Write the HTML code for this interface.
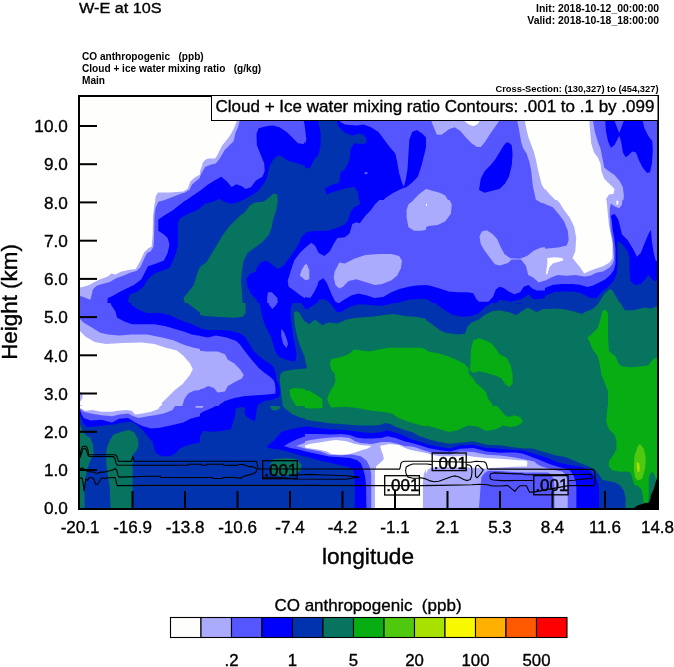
<!DOCTYPE html>
<html><head><meta charset="utf-8"><style>
html,body{margin:0;padding:0;background:#fff;}
svg{display:block;}
text{font-family:"Liberation Sans",sans-serif;}
.t{will-change:transform;}
</style></head><body>
<svg width="674" height="667" viewBox="0 0 674 667" style="will-change:transform">
<rect x="0" y="0" width="674" height="667" fill="#fff"/>
<g font-size="15" stroke="#000" stroke-width="0.35"><text x="79" y="12.9" textLength="82.6" lengthAdjust="spacingAndGlyphs">W-E at 10S</text></g>
<g font-size="10.1" font-weight="bold">
<text x="82" y="59.5">CO anthropogenic&#160;&#160; (ppb)</text>
<text x="82" y="71.5">Cloud + ice water mixing ratio&#160;&#160; (g/kg)</text>
<text x="82" y="83.5">Main</text>
</g>
<g font-weight="bold" text-anchor="end">
<text x="659" y="11.5" font-size="10.45">Init: 2018-10-12_00:00:00</text>
<text x="659" y="23.5" font-size="10.45">Valid: 2018-10-18_18:00:00</text>
<text x="658.5" y="91.6" font-size="9.35">Cross-Section: (130,327) to (454,327)</text>
</g>
<svg x="80" y="97" width="577" height="411" viewBox="80 97 577 411" overflow="hidden">
<rect x="80" y="97" width="577" height="411" fill="#FEFEFC"/>
<defs><clipPath id="c00"><rect x="80" y="97" width="120" height="103"/></clipPath><clipPath id="c01"><rect x="200" y="97" width="105" height="103"/></clipPath><clipPath id="c02"><rect x="305" y="97" width="121" height="103"/></clipPath><clipPath id="c03"><rect x="426" y="97" width="119" height="103"/></clipPath><clipPath id="c04"><rect x="545" y="97" width="112" height="103"/></clipPath><clipPath id="c10"><rect x="80" y="200" width="120" height="103"/></clipPath><clipPath id="c11"><rect x="200" y="200" width="105" height="103"/></clipPath><clipPath id="c12"><rect x="305" y="200" width="121" height="103"/></clipPath><clipPath id="c13"><rect x="426" y="200" width="119" height="103"/></clipPath><clipPath id="c14"><rect x="545" y="200" width="112" height="103"/></clipPath><clipPath id="c20"><rect x="80" y="303" width="120" height="103"/></clipPath><clipPath id="c21"><rect x="200" y="303" width="105" height="103"/></clipPath><clipPath id="c22"><rect x="305" y="303" width="121" height="103"/></clipPath><clipPath id="c23"><rect x="426" y="303" width="119" height="103"/></clipPath><clipPath id="c24"><rect x="545" y="303" width="112" height="103"/></clipPath><clipPath id="c30"><rect x="80" y="406" width="120" height="102"/></clipPath><clipPath id="c31"><rect x="200" y="406" width="105" height="102"/></clipPath><clipPath id="c32"><rect x="305" y="406" width="121" height="102"/></clipPath><clipPath id="c33"><rect x="426" y="406" width="119" height="102"/></clipPath><clipPath id="c34"><rect x="545" y="406" width="112" height="102"/></clipPath></defs>
<g clip-path="url(#c00)">
<polygon fill="#ABABFD" points="200.3,174.4 194,178 190.4,181.6 187.7,188.8 183.2,191.5 169.7,192.4 158,192.4 155.8,196 154.4,205 205,205 205,170"/>
<polygon fill="#5656FE" points="203.9,174.4 197.6,179.8 192.2,184.3 189.5,189.7 185,192.4 179.6,194.2 172.4,196.9 163.4,200.5 160,205 205,205 205,172"/>
<polygon fill="#0000FD" points="215,180.2 207.3,184.9 201.1,190.1 194.8,194.3 188.6,198.4 182.4,203.6 176.2,208.8 205,208.8"/>
</g>
<g clip-path="url(#c01)">
<polygon fill="#ABABFD" points="237.2,120 234.5,126.9 231.9,132.2 229.2,136.7 225.6,141.2 222.1,145.6 219.4,151 216.7,156.3 214.9,158.5 207.8,158.5 205.1,159.9 202.9,162.5 201.6,167 198.5,175 197,178.7 197,205 310,205 310,120"/>
<polygon fill="#5656FE" points="239.9,120 238.1,126.9 235.4,133.1 233.6,141.2 229.2,145.6 224.7,150.1 222.1,154.5 219.4,159 215.8,163.4 210.5,164.7 205.1,167 201.7,173.1 198.9,178.7 197,181.5 197,205 310,205 310,120"/>
<polygon fill="#0000FD" points="194.8,194.3 201.1,190.1 207.3,184.9 215,180.2 221.3,176.8 226.9,181.5 231.6,187.1 236.3,184.3 241.9,186.2 245.6,189 251.2,187.1 255.9,180.6 262.4,176.8 264.7,171.2 264.3,163.7 260.6,154.4 256.8,145 256.5,133.8 258.7,128.2 266.2,126.3 272.7,125.4 279.3,127.3 286.7,132 292.3,137.6 298,143.2 303.6,144.1 306.4,139.4 305.4,132 304.5,124.5 303.6,120 310,120 310,205 194.8,205"/>
<polygon fill="#0233AE" points="197,209 200,207.9 204.7,203.7 211.9,202 219,199 223.7,201.4 230.9,203.7 235.6,203.1 241.5,200.8 247.5,197.8 253.4,194.2 258.2,190.7 262.9,184.7 265.9,180 267.1,176.8 269.9,165.6 273.7,159.1 278.3,155.3 283,157.2 288.6,160.9 296.1,162.8 303.6,165.6 309.2,167.5 313.8,161.9 316.7,154.4 319.5,145 320.4,135.7 318.5,126.3 317.6,120 330,120 330,215 197,215"/>
<polygon fill="#06745E" points="249.9,205.5 254.6,202.6 264.1,201.4 268.8,197.8 273.6,193.6 277.2,194.2 277.7,201.4 277,205 249,205"/>
</g>
<g clip-path="url(#c02)">
<polygon fill="#ABABFD" points="300,97 430,97 430,205 300,205"/>
<polygon fill="#5656FE" points="300,97 430,97 430,189 426,189 419.6,193.7 414,199.3 412.2,205 300,205"/>
<polygon fill="#0000FD" points="304.5,120 337.4,120 344.9,124.5 356.1,125.4 363.6,124.5 371,127.3 378.5,132 384.1,139.4 389.7,146.9 395.3,153.5 397.2,161.9 399.1,173.1 401.9,182.4 403.8,187.1 405.6,180.6 407.5,169.3 408.4,154.4 409.4,139.4 412.2,132 416.8,130.1 422.5,133.8 426,137.6 426.5,145 424.3,154.4 421.5,165.6 417.8,176.8 412.2,182.4 406.6,187.1 401,189 393.5,192.7 386,197.4 380.4,203 380,205 300,205 300,144 305,144 306.4,139.4 305.4,132"/>
<polygon fill="#5656FE" points="364.5,172 367.5,172 367.5,174.2 364.5,174.2"/>
<polygon fill="#0233AE" points="317.8,120 336.5,120 338.3,126.3 343.9,132 352.3,135.7 358,133.8 363.6,134.8 366.4,138.5 366.4,143.2 361.7,144.1 354.2,143.2 350.5,148.8 349.5,160 344.9,169.3 340.2,173.1 339.3,182.4 333.7,184.3 325.2,188 326.2,194.6 333.7,191.8 346.7,188 354.2,187.1 358,191.8 359.4,205 300,205 300,166.5 305.6,168.4 310.3,167.5 314,160 318.7,154.4 320.6,145 320.6,132"/>
</g>
<g clip-path="url(#c03)">
<polygon fill="#ABABFD" points="420,97 464,97 464,120.7 468.7,124.5 473.3,126.3 477.1,124.5 479.9,120.7 479.9,97 524.8,97 524.8,120.7 526.6,130.1 528.5,137.6 531.3,145 534.1,152.5 536,160 537.8,169.3 539.7,176.8 541.6,184.3 544.4,189 547,191.8 550,193 550,205 420,205"/>
<polygon fill="#5656FE" points="420,97 431.3,97 431.3,120.7 434.1,128.2 436.9,134.8 441.6,134.8 449,129.2 454.7,127.3 460.3,131 465.9,137.6 471.5,143.2 477.1,146.9 480.8,146.9 485.5,141.3 490.2,133.8 494.8,127.3 498.6,121.7 499.5,120.7 517.3,120.7 519.1,130.1 521,141.3 522.9,147.8 526.6,153.5 529.4,161.9 531.3,171.2 532.2,180.6 533.2,188 535,195.5 536.9,205 450.9,205 445.3,195.5 439.7,192.7 432.2,190.8 426.6,189 421,193.7 420,194"/>
<polygon fill="#0000FD" points="418,131 422.5,133.8 425.5,137.6 426,145 425,154.4 422.5,162 421,166 418,168"/>
<polygon fill="#0000FD" points="507.9,142.2 511.7,145 512.6,154.4 511.7,165.6 508.9,176.8 505.1,183.4 499.5,189 492,190.8 484.6,192.7 479,189.9 480.8,178.7 484.6,171.2 490.2,165.6 494.8,160 499.5,152.5 503.3,146 506.1,142.8"/>
</g>
<g clip-path="url(#c04)">
<polygon fill="#ABABFD" points="530,97 536,97 536,156.3 537.9,163.7 540.7,176.8 543.5,187.1 549.1,193.7 554.7,199.3 557.5,205 530,205"/>
<polygon fill="#ABABFD" points="589.3,97 589.3,120.7 590.2,132 591.2,143.2 594,152.5 597.7,157.2 600.5,163.7 601.4,171.2 604.2,178.7 610.8,185.2 614.5,189 613.6,193.7 608.9,194.6 606.1,199.3 605.2,205 660,205 660,97"/>
<polygon fill="#5656FE" points="593,97 593,120.7 594.9,132 597.7,141.3 600.5,148.8 602.4,158.1 604.2,167.5 608.9,171.2 614.5,175 619.2,180.6 622.9,187.1 623.9,195.5 622.9,205 660,205 660,97"/>
<polygon fill="#0000FD" points="605.2,120.7 606.1,132 608,141.3 610.8,147.8 614.5,145 617.3,139.4 619.2,135.7 621.1,141.3 622.9,152.5 625.7,157.2 628.5,155.3 632.3,151.6 636,152.5 638.8,160 642.6,167.5 647.2,173.1 650,172.2 651.9,163.7 652.8,150.7 652.3,141.3 648.2,135.7 644.4,128.2 642.6,120.7 623.9,120.7 621.1,128.2 619.2,132.9 617.3,128.2 614.5,120.7"/>
</g>
<g clip-path="url(#c10)">
<polygon fill="#ABABFD" points="156.4,195 154.5,204.5 153,215.7 152.7,234.4 151.7,246.5 148,248.4 144.2,252.2 140.5,260.6 135.8,269 128.3,269.9 120.9,271.8 115.3,274.6 111.5,273.6 107.8,276.5 100.3,279.3 94.7,282.1 89.1,284.9 83.5,286.7 79.7,287.7 75,288 75,310 205,310 205,195"/>
<polygon fill="#5656FE" points="177,195 177,197 165.7,199.8 158.3,201.7 155.5,208.2 154.5,215.7 154.1,234.4 153.6,246.5 150.8,251.2 147,253.1 144.2,258.7 140.5,267.1 136.8,270.8 130.2,272.7 123.7,275.5 116.2,278.3 109.7,282.1 102.2,283.9 96.6,285.8 92.8,289.5 91,298 90,299.8 83.5,297 79.7,296 75,296 75,310 205,310 205,195"/>
<polygon fill="#0000FD" points="190,195 190,197 182.6,202.6 173.2,210.1 163.9,215.7 158.3,219.4 158.3,230.7 163.9,234.4 167.6,238.1 169.5,244.7 167.6,253.1 163.9,260.6 156.4,263.4 148,266.2 145.2,271.8 141.4,279.3 134,284.9 126.5,288.6 119,292.3 112.5,296.1 107.8,298 106.8,310 205,310 205,195"/>
<polygon fill="#0233AE" points="205,205 202,207.3 195.6,211 188.2,213.8 179.8,218.5 177.9,223.2 177.9,234.4 177.9,245.6 176,253.1 173.2,260.6 169.5,268 162,270.8 154.5,273.6 148,279.3 143.3,286.7 137.7,291.4 130.2,294.2 128.3,298.9 129.3,310 205,310"/>
<polygon fill="#06745E" points="205,262 202,264.3 199.4,268 196.6,275.5 193.8,284.9 188.2,292.3 183.5,298 184.4,301.7 186.3,310 205,310"/>
</g>
<g clip-path="url(#c11)">
<polygon fill="#0000FD" points="195,195 310,195 310,310 195,310"/>
<polygon fill="#5656FE" points="311,242.8 314.8,245.6 316.6,255 321.3,258.7 325,261 325,283 318.5,284.9 314.8,290.5 311,298 305.4,298.9 298.9,294.2 294.2,290.5 288.6,286.7 287.7,281.1 290.5,271.8 294.2,260.6 299.8,253.1 305.4,247.5 309.2,243.7"/>
<polygon fill="#ABABFD" points="306.4,263.4 309.2,268 310.1,271.8 309.2,280.2 305.4,280.2 299.8,275.5 301.7,269.9 304.5,265.2"/>
<polygon fill="#5656FE" points="268,292.3 271.8,292.3 277.4,298 278.3,310 267.1,310 267.1,298"/>
<polygon fill="#0233AE" points="195,209 200,207.9 204.7,203.7 211.9,202 219,199 223.7,201.4 230.9,203.7 235.6,203.1 241.5,200.8 247.5,197.8 253.4,194.2 258.2,190.7 262.9,184.7 265.9,180 325,180 325,231 316.6,229.7 309.2,231.6 301.7,236.3 298.9,243.7 294.2,251.2 288.6,258.7 283,266.2 277.4,269 271.8,264.3 266.2,260.6 260.6,262.4 256.8,268 255.9,271.8 250.3,273.6 246.5,279.3 247.5,286.7 251.2,294.2 256.8,299.8 258.7,310 195,310"/>
<polygon fill="#06745E" points="195,278 197,275.5 200.7,266.2 206.3,262.4 212,253.1 217.6,243.7 223.2,234.4 228.8,226.9 235.6,220 240.4,215.6 245.1,212 249.9,205.5 254.6,202.6 264.1,201.4 268.8,197.8 273.6,193.6 277.2,194.2 277.7,201.4 276,210.9 273,220 271.8,226.9 269,234.4 262.4,241.9 255,247.5 247.5,253.1 243.7,260.6 241.9,271.8 240.9,281.1 241.9,290.5 242.8,310 195,310"/>
</g>
<g clip-path="url(#c12)">
<polygon fill="#5656FE" points="300,195 430,195 430,310 300,310"/>
<polygon fill="#ABABFD" points="408.4,204.5 414,199.8 419.6,197 430,195 430,228.8 421.5,230.7 414,230.7 408.4,226.9 406.6,217.6 406.6,210.1"/>
<polygon fill="#ABABFD" points="339.3,262.4 344.9,263.4 354.2,258.7 365.4,255 378.5,254 391.6,254 399.1,255.9 401.9,260.6 401,268 397.2,275.5 391.6,280.2 382.3,283.9 374.8,284.9 365.4,282.1 356.1,279.3 348.6,281.1 343,286.7 339.3,288.6 335.5,284.9 333.7,277.4 334.6,271.8 337.4,266.2"/>
<polygon fill="#ABABFD" points="306.5,263.4 309.3,269.9 309.3,279.3 304.7,280.2 300,275.5 301.9,271.8 303.7,266.2"/>
<polygon fill="#0000FD" points="383.2,195 383.2,197 378.5,200.7 374.8,204.5 371,210.1 365.4,215.7 359.8,223.2 356.1,222.2 352.3,224.1 349.5,233.5 344.9,237.2 337.4,238.1 333.7,243.7 329.9,251.2 324.3,255.9 318.7,253.1 315,245.6 311.2,242.8 305.6,247.5 300,253.1 295,253 295,195"/>
<polygon fill="#0000FD" points="295,290 296,290 304.9,297.1 310.2,298 313.8,292.7 317.4,285.6 318.7,281.1 323.4,278.3 326.2,282.1 327.2,283.8 331.6,294.5 335.2,301.6 338.7,303.4 344.1,299.8 351.2,295.4 358.3,293.6 367.2,295.4 374.3,298 383.2,297.1 390.4,292.7 399.3,289.1 409.9,286.5 416,285.6 430,284.9 430,310 295,310"/>
<polygon fill="#0233AE" points="359.8,195 359.8,204.5 354.2,207.3 350.5,212 347.7,221.3 343.9,225 337.4,227.8 328,230.7 318.7,230.7 309.3,231.6 303.7,233.5 300,236.3 295,237 295,195"/>
<polygon fill="#0233AE" points="318.7,299.8 324.3,298.9 329.9,302.6 331.8,310 316,310"/>
<polygon fill="#0233AE" points="389.7,310 399.1,302.6 408.4,299.8 419.6,298.9 430,298.9 430,310"/>
</g>
<g clip-path="url(#c13)">
<polygon fill="#5656FE" points="420,195 550,195 550,310 420,310"/>
<polygon fill="#ABABFD" points="420,195 448.1,195 448.1,197 451.8,204.5 450.9,213.8 445.3,221.3 437.8,225 428.5,226 421,229.7 420,230"/>
<polygon fill="#FEFEFC" points="425,204 427,204 427,206 425,206"/>
<polygon fill="#ABABFD" points="479.5,236.3 481.9,231.5 486.6,230.3 492.6,233.9 497.3,239.2 500.9,247.6 504.4,254.1 510.4,258.2 519.9,258.8 527,255.9 534.1,250.5 541.2,247.6 550,247 550,279 538.8,282.6 532.9,277.2 528.2,274.9 525.8,265.4 521,259.6 511.5,259.6 508,263 499.7,265.4 494.9,264.2 490.2,258.2 484.2,249.9 480.7,244"/>
<polygon fill="#ABABFD" points="533.2,195 550,195 550,205 540.6,202.6 536,199.8"/>
<polygon fill="#0000FD" points="415,283.5 421,283.9 430.3,285.8 439.7,288.6 449,291.4 458.4,292.3 467.7,292.3 473.3,293.3 476.2,298.9 479,301.7 488.3,301.7 493,297 495.8,289.5 499.5,286.7 503.3,287.7 508.9,291.4 514.5,294.2 520.1,292.3 523.8,286.7 528.5,284.9 532.2,288.6 536.9,290.5 544.4,290.5 550,289 550,310 415,310"/>
<polygon fill="#0233AE" points="415,298 421,298 428.5,299.8 436,306 436,310 415,310"/>
<polygon fill="#0233AE" points="493.9,310 493.9,306 499.5,299.8 510.7,301.7 522,298.9 528.5,294.2 533.2,298.9 540.6,298.9 550,297 550,310"/>
</g>
<g clip-path="url(#c14)">
<polygon fill="#5656FE" points="530,195 662,195 662,310 530,310"/>
<polygon fill="#ABABFD" points="530,195 622.9,195 622,204.5 619.2,208.2 614.5,206.3 610.8,203.5 609.8,208.2 609.8,215.7 610.8,230.7 612.6,240 613.6,251.2 614,259.5 612.5,263.9 609.6,267.6 603.6,271.3 596.2,272.8 590.3,275.8 584.3,276.5 575.4,275 566.5,275.8 557.6,275 551.7,277.3 544.3,281 536.9,281.7 530.9,277.3 528,275 528,250.3 536,250.3 547.2,248.4 558.4,247.5 566.8,245.6 568.7,240 567.8,230.7 564,221.3 558.4,213.8 552.8,207.3 543.5,203.5 536,200.7 530,200"/>
<polygon fill="#FEFEFC" points="553.8,195 553.8,197 559.4,202.6 564,210.1 569.7,217.6 574.3,226.9 576.2,238.1 575.3,251.2 572.5,258 579.9,266.9 584.3,273.5 588.8,271.3 596.2,268.4 603.6,266.1 609.6,262.4 612.5,258 612.6,243.7 610.8,234.4 608.9,225 608,215.7 607,204.5 606.1,197 606.1,195"/>
<polygon fill="#FEFEFC" points="616.4,200.7 618.3,200.7 618.3,204.5 616.4,204.5"/>
<polygon fill="#FEFEFC" points="547.3,258 554.7,257.2 562.1,258 563.6,260.2 559.1,261.7 553.2,263.2 549.5,266.9 547.3,274.3 545.8,274.3 547.3,263.9"/>
<polygon fill="#0000FD" points="530,288 535.4,291.4 541.3,289.9 547.3,286.9 553.2,284.7 562.1,283.9 572.5,283.9 579.9,284.7 587.3,286.9 593.2,285.4 599.2,282.4 605.1,279.5 610.3,275 614,269.8 615.5,263.9 615.5,249.3 614.5,240 612.6,228.8 611.7,219.4 610.8,215.7 614.5,213.8 618.3,219.4 622,234.4 627.6,240 633.2,249.3 637,256.8 640.7,253.1 644.4,243.7 648.2,234.4 651,229.7 651.9,241.9 653.8,253.1 655.6,260.6 662,262 662,310 530,310"/>
<polygon fill="#0233AE" points="617.3,240.9 622,243.7 627.6,251.2 629.5,258.7 629.5,271.8 630.4,281.1 635.1,284.9 640.7,283.9 645.4,279.3 648.2,274.6 651.9,279.3 654.7,281.1 662,279 662,310 530,310 530,297 533.9,299.5 539.8,298 547.3,295.1 554.7,292.1 562.1,291.4 572.5,291.4 579.9,292.8 585.8,295.8 590.3,298 596.2,298 599.2,295.1 602.2,291.4 608.1,286.9 614,280.2 617,272.8 617.7,262.4 617.5,253.1"/>
<polygon fill="#06745E" points="597.7,305 603.6,295.1 609.6,289.1 612.5,290.6 617,298 620.7,305 621,310 597,310"/>
</g>
<g clip-path="url(#c20)">
<polygon fill="#ABABFD" points="75,298 205,298 205,415 75,415"/>
<polygon fill="#FEFEFC" points="75,330 79.7,330.8 85.3,336.5 94.7,342.1 105.9,343.9 122.7,343 141.4,342.6 154.5,343.9 165.7,347.7 177,350.5 183.5,356.1 190,363.6 192.8,369.2 190,374.8 182.6,384.1 175.1,389.7 167.6,397.2 162,402.8 160.1,415 75,415 75,409 80,409 83,406 80,405 75,404 75,402 80,401.9 82.5,398 82.5,394 80,391.6 75,391"/>
<polygon fill="#5656FE" points="75,318 79.7,318.7 83.5,322.4 91,327.1 100.3,332.7 107.8,334.6 119,335.5 132.1,334.6 147,334.6 162,337.4 173.2,340.2 184.4,344.9 193.8,347.7 202,349.5 205,350 205,298 75,298"/>
<polygon fill="#5656FE" points="205,389.7 202,389.7 193.8,390.7 188.2,393.5 184.4,399.1 182.6,404.7 181.6,415 205,415"/>
<polygon fill="#0000FD" points="108.7,298 111.5,305.6 115.3,311.2 117.1,317.8 124.6,321.5 132.1,324.3 143.3,324.3 154.5,324.3 165.7,326.2 175.1,329 184.4,331.8 191.9,334.5 197.5,335.5 205,336 205,298"/>
<polygon fill="#0233AE" points="129.3,298 132.1,305.6 137.7,309.3 147,313.1 160.1,313.1 169.5,315 177,318.7 184.4,321.5 191.9,324.3 197.5,327.1 205,328.5 205,298"/>
<polygon fill="#06745E" points="183.5,298 188.2,303.7 195.6,309.3 205,316 205,298"/>
</g>
<g clip-path="url(#c21)">
<polygon fill="#0233AE" points="195,298 310,298 310,415 195,415"/>
<polygon fill="#06745E" points="195,298 245.4,298 245.6,313.1 242.8,316.8 234.4,317.8 215.7,316.8 204.5,315.9 197,314 195,314"/>
<polygon fill="#0000FD" points="249.4,290 250.8,298.1 253.5,302.8 258.9,299.4 260.2,306.2 262.3,317 265,325.1 268.3,331.8 271,337.2 273.1,344 275.1,350.7 277.8,356.1 283.2,358.8 289.9,360.8 295.3,361.5 296.7,354.8 295.3,346.7 293.3,337.2 292,327.8 290.6,317 290.6,308.9 292.6,303.5 295.3,300.1 300.7,302.1 306.1,310.2 311.5,304.8 316.9,300.8 322.3,299.4 326.4,302.1 330,300.8 330,290"/>
<polygon fill="#5656FE" points="271,292 275.8,295.4 277.8,299.4 276.4,304.8 272.4,308.9 269,304.8 267.7,298.1"/>
<polygon fill="#5656FE" points="281.2,329.1 283.9,331.8 286.6,338.6 288,344 286.6,348 283.2,344 281.2,335.9"/>
<polygon fill="#5656FE" points="299.4,290 314.9,290 313.5,295.4 308.8,298.8 304.8,297.4 301.4,294"/>
<polygon fill="#0000FD" points="195,328 197,328 208.2,329.9 221.3,329.9 230.7,330.8 236,332.5 240,333.2 245.4,337.2 249.4,344 253.5,350.7 258.9,356.1 264.3,360.2 269.7,363.5 273.7,366.9 275.8,373.7 276.6,380 279.1,385 280.5,391.7 279.1,397 272.4,399.7 264.4,401 257.8,405 256.4,411.7 195,415"/>
<polygon fill="#5656FE" points="195,335.5 197,335.5 208.2,337.4 215.7,335.5 226.9,337.4 236.3,341.1 240,344.5 244,350 249,356.5 254,362.5 258.8,368 264,372.5 269,376 273,379.5 274.6,382 275.5,387.9 275.5,393.5 268,394.4 256.8,395.3 243.7,396.3 234.4,398.1 225,401 219.4,404.7 215.7,415 195,415"/>
<polygon fill="#ABABFD" points="195,350.5 197,350.5 206.3,351.4 217.6,351.4 225,354.2 227.8,359.8 234.4,363.6 240,369.2 243.7,374.8 241.9,378.5 234.4,382.3 227.8,386 225,391.6 217.6,392.5 213.8,387.9 208.2,386 202.6,388.8 197,389.7 195,389.7"/>
<polygon fill="#06745E" points="294,312.3 296.7,310.9 299.4,312.9 303.4,319.7 307.5,324.4 311.5,321 314.9,319 318.3,323.1 321,325.1 325,322.4 330,321.7 330,415 283,415 282.1,401 281.1,393.5 280.2,384.1 279.8,380 280.5,373.7 284.5,371 294,369.6 306.1,368.3 306.8,365.6 304.8,357.5 302.7,352.1 299.4,344 296.7,334.5 294.6,323.7"/>
<polygon fill="#07AD12" points="289.5,389.7 294.2,387.9 303.6,388.8 312.9,390.7 320.4,395.3 325,397.2 325,415 301.7,415 294.2,402.8 290.5,397.2"/>
</g>
<g clip-path="url(#c22)">
<polygon fill="#0233AE" points="300,298 430,298 430,415 300,415"/>
<polygon fill="#0000FD" points="295,298 296,300.7 301.3,304.3 306.7,309.6 313.8,305.1 320.9,299.8 326.3,299.8 331.6,305.1 337,312.3 342.3,311.4 349.4,306.9 358.3,304.3 370.8,305.1 381.5,306 392.1,303.4 402.8,300.7 416,298.9 430,298 430,290 295,290"/>
<polygon fill="#06745E" points="300,313.1 303.7,320.6 309.3,324.3 315,319.6 318.7,322.4 322.4,325.2 328,322.4 337.4,323.4 346.7,319.6 356.1,317.8 371,316.8 384.1,315 393.5,314 404.7,315.9 415.9,316.8 426,318.7 430,319 430,415 300,415 300,372 300.2,370.1 307,368.1 305.6,362 302.9,355.2 300.2,348.5 300,348"/>
<polygon fill="#07AD12" points="354.2,349.5 361.7,350.5 369.2,351.4 378.5,349.5 389.7,347.7 401,347.7 412.2,347.7 421.5,347.7 426,349.5 430,350 430,415 331.8,415 331.8,409 329,403.8 327.1,399.1 329.9,391.6 333.7,386 335.5,380.4 334.6,373.8 330.8,369.2 329.9,363.6 331.8,358.9 341.1,357 348.6,354.2"/>
<polygon fill="#07AD12" points="300,389.7 309.3,390.7 316.8,395.3 322.4,399.1 322.4,415 300,415"/>
</g>
<g clip-path="url(#c23)">
<polygon fill="#0233AE" points="420,298 550,298 550,415 420,415"/>
<polygon fill="#0000FD" points="430.3,298 430.3,300 436,303.7 443.4,309.3 452.8,315 462.1,316.8 471.5,315.9 479,313.1 484.6,307.5 490.2,303.7 495.8,300 495.8,298"/>
<polygon fill="#0000FD" points="505.1,298 505.1,300 510.7,302.8 520.1,303.7 525.7,301.9 533.2,300.9 540.6,301.9 547,300 550,298"/>
<polygon fill="#06745E" points="420,317.5 421,317.8 426.6,320.6 432.2,324.3 439.7,329.9 445.3,332.7 458.4,334.6 464.9,333.7 467.7,326.2 471.5,322.4 479,319.6 484.6,315 492,311.2 499.5,310.3 508.9,312.2 516.3,315 522,311.2 527.6,307.5 533.2,310.3 536.9,312.2 542.5,309.3 547,308.4 550,308 550,415 420,415"/>
<polygon fill="#07AD12" points="420,346.5 421,346.7 428.5,351.4 437.8,353.3 447.2,356.1 456.5,359.8 464,363.6 468.7,368.2 468.7,373.8 473.3,378.5 476.2,383.2 480.8,386.9 485.5,391.6 488.3,399.1 492,403.8 495.8,415 420,415"/>
<polygon fill="#07AD12" points="473.3,340.2 479,338.3 484.6,340.2 491.1,343 495.8,348.6 499.5,354.2 507,358 510.7,365.4 512.6,374.8 512.6,384.1 508.9,386.9 505.1,384.1 501.4,378.5 495.8,375.7 486.4,372.9 479,371 473.3,372.9 470,370.1 470.5,359.8 471.1,348.6"/>
</g>
<g clip-path="url(#c24)">
<polygon fill="#06745E" points="530,298 662,298 662,415 530,415"/>
<polygon fill="#0233AE" points="530,298 530,312.5 536,312.2 545.3,309.3 554.7,308.4 564,309.3 573.4,311.2 581.8,314 586.5,311.2 592.1,309.3 595.8,306.5 599.6,301.9 600.5,298"/>
<polygon fill="#0233AE" points="619.2,298 619.2,300 622,305.6 624.8,310.3 633.2,310.3 640.7,308.4 644.4,307.5 650,308.4 657,306.5 662,306 662,298"/>
<polygon fill="#07AD12" points="605.2,309.3 608,313.1 608,328 608,337.4 608.9,350.5 612.6,354.2 615.5,356.1 618.3,363.6 622,366.4 629.5,367.3 640.7,366.4 648.2,365.4 652.8,359.8 655.6,358 662,358 662,415 608,415 608,391.6 605.2,384.1 601.4,374.8 599.6,363.6 597.7,356.1 592.1,348.6 589.3,341.1 587.4,337.4 592.1,333.7 597.7,328 600.5,318.7 602.4,311.2"/>
</g>
<g clip-path="url(#c30)">
<polygon fill="#0233AE" points="75,400 205,400 205,515 75,515"/>
<polygon fill="#0000FD" points="75,400 75,414 79.7,414.2 83.5,423.6 87.2,427.3 94.7,426.4 104,425.4 113.4,424.5 122.7,422.6 132.1,421.7 137.7,425.4 143.3,431 147,435.7 152.7,442.3 154.5,449.7 156.4,453.5 162,456.3 169.5,456.3 175.1,453.5 180.7,447.9 188.2,445.1 195.6,443.2 202,442.3 205,442 205,400"/>
<polygon fill="#5656FE" points="75,400 75,409.5 79.7,409.5 81.6,414.2 83.6,417.9 90.7,420.6 101.4,419.7 112,422.4 119.2,418.8 128.1,417.9 135.2,422.4 142.3,425.9 151.2,428.6 160.1,427.7 172.6,425.1 183.3,422.4 190.4,418.8 200,416.2 205,415 205,400"/>
<polygon fill="#ABABFD" points="75,400 75,408.6 79.7,408.6 83.6,411.7 90.7,413.5 101.4,415.3 112,416.2 119.2,414.4 128.1,413.5 133.4,416.2 138.7,417.9 147.7,416.2 154.8,415.3 163.7,413.5 172.6,409.9 177,402.8 179,400"/>
<polygon fill="#ABABFD" points="195.6,405.8 202,405 205,405 205,407.7 195.6,407.7"/>
<polygon fill="#FEFEFC" points="75,400 75,408.1 80,408.1 85.3,410.8 92.5,409.9 101.4,411.7 112,411.7 117.4,410.8 126.3,409.9 131.6,410.8 135.2,414.4 142.3,413.5 151.2,411.7 158.3,409 161.9,402.8 163,400"/>
<polygon fill="#06745E" points="75,423 79.7,423.6 81.6,429.2 86.3,435.7 90,437.6 92.8,444.1 93.8,453.5 91,459.1 88.2,466.6 85.3,477.8 84.4,487.1 84.8,510 75,510"/>
<polygon fill="#06745E" points="109.7,440.4 113.4,434.8 120.9,432 128.3,430.1 134,432 137.7,438.5 138.6,446 135.8,451.6 132.6,455.3 132.6,468.4 132.6,510 110.6,510 109.7,487.1 106.8,468.4 105.9,455.3 106.8,447.9"/>
</g>
<g clip-path="url(#c31)">
<polygon fill="#0233AE" points="195,400 310,400 310,515 195,515"/>
<polygon fill="#0000FD" points="195,400 195,443.8 199,441.1 200.3,435.7 203,431.1 211,431.7 221.7,431.1 231.1,429.1 233,422.4 235.1,415.7 235.7,408.4 240.4,407 245.1,407.7 244.4,411.7 245.7,415.7 251.1,419.7 255.1,421 256.4,411.7 257.8,405 264.4,401 272.4,399.7 279.1,397 280.5,391.7 280,385"/>
<polygon fill="#5656FE" points="195,400 195,417 203,411.7 212.4,407.7 221.7,402.4 229.7,398.4 241.7,395 255.1,393.7 268.4,393 276.5,392.3 276.7,385"/>
<polygon fill="#ABABFD" points="195,405.8 203,405.7 203,407.7 195,407.7"/>
<polygon fill="#06745E" points="269.8,406.5 274,405 279,405.5 280.5,408 277,410.4 272,410"/>
<polygon fill="#06745E" points="280.5,400 281.1,403 284.9,408.6 292.3,414.2 301.7,418 312.9,419.8 323,420.8 330,421 330,400"/>
<polygon fill="#07AD12" points="294.2,400 294.2,403 301.7,405.8 312.9,407.7 323,408.6 330,409 330,400"/>
<polygon fill="#0000FD" points="330,426.4 323,426.4 312.9,426.4 301.7,427.3 290.5,429.2 281.1,432 277.4,436.7 271.8,442.3 266.2,446.9 271.8,448.8 281.1,449.7 290.5,452.5 299.8,455.3 309.2,458.2 316.6,460 323,461 330,461"/>
<polygon fill="#5656FE" points="330,432.9 323,432.9 312.9,434.8 303.6,436.7 296.1,439.5 288.6,443.2 283.9,446 290.5,447.9 299.8,449.7 309.2,452.5 318.5,456.3 323,457.2 330,457.2"/>
<polygon fill="#ABABFD" points="330,438.5 323,438.5 312.9,440.4 303.6,443.2 296.1,446 303.6,447.9 312.9,450.7 323,453.5 330,453.5"/>
<polygon fill="#FEFEFC" points="330,441.3 323,441.3 314.8,443.2 305.4,446 312.9,447.9 323,449.7 330,449.7"/>
<polygon fill="#06745E" points="273.6,459.1 286.7,458.2 296.1,459.1 301.7,464.7 300.8,470.3 294.2,475 281.1,475.9 271.8,474 269.9,464.7"/>
</g>
<g clip-path="url(#c32)">
<polygon fill="#0233AE" points="300,400 430,400 430,515 300,515"/>
<polygon fill="#06745E" points="300,400 300,418.8 310.4,420.4 320.8,421.9 331.2,423.5 341.5,424 351.9,425.1 360,425.5 371.9,425.5 380.2,424.9 384.9,423.1 389.7,423.7 395.6,426.7 405.1,430.3 413.4,432.6 419,436 428,439 440,441 440,400"/>
<polygon fill="#07AD12" points="300,400 300,407.7 311.2,408.6 322.4,408.2 323.5,404 324.5,400 327,400 329,404 331,407.5 346.7,406.7 359.8,408.6 371.9,410.7 383.7,411.9 392,413.6 398,417.8 407.5,421.4 419.3,424.9 431.2,427.9 431,400"/>
<polygon fill="#0000FD" points="295,425 300,425.6 310.4,427.1 320.8,428.2 331.2,429.2 341.5,429.7 351.9,430.8 360,432 371.9,433.2 381.4,432 387.3,430.3 393.2,432 401.5,434.4 410,438.4 419,441.4 428,444.4 440,446 440,515 354.8,515 354.8,484.5 354.5,475 353,469.5 348.5,467 341,465.5 331.2,463 320.8,460.9 310.4,457.8 300,454.7 295,454"/>
<polygon fill="#5656FE" points="295,434.9 300,434.9 305.2,433.9 315.6,433.9 331.2,434.4 341.5,433.9 349.8,434.9 357.1,437.8 364.4,438.5 371.9,438.6 381.4,438 387.3,436.2 395.6,438 405.1,441.5 410,442.6 419,445 428,448 440,450 440,515 366.5,515 366,485 365,475.6 363,469 361,463.6 357.3,460.2 350,458 340.5,457.2 329.1,456.5 320.8,454.7 310.4,452.6 300,450 295,450"/>
<polygon fill="#ABABFD" points="295,442.5 300,442.2 310.4,440.1 320.8,438.6 331.2,437.5 341.5,437 349.8,438 355,441.2 360,443 371.9,443.9 381.4,442.1 389.7,442.1 398,443.9 405.1,446.3 410,446.2 416,447.4 422,449.8 428,451.6 440,454 440,515 371.2,515 371.2,474.1 369.7,466.7 366.7,460.8 360.8,456.3 351.9,454.5 341.5,455.2 329.1,454.7 320.8,451.5 310.4,449.5 300,447.9 295,447.9"/>
<polygon fill="#FEFEFC" points="300,446.6 302.1,446.3 310.4,443.8 320.8,442.2 331.2,440.6 336.3,440.1 346.7,441.2 354,443.8 362.3,445.3 370.7,445.7 370.7,446.8 367.1,448.7 362.3,450 355,452.6 349.8,454.1 341.5,454.7 331.2,454.1 327,451.5 320.8,450 310.4,448.4 302.1,446.9"/>
<polygon fill="#FEFEFC" points="380.2,445.7 389.7,443.9 399.2,445.1 405.1,448.1 410,449.8 416,451 422,452.2 428,453.4 431,453.5 431,470 426.6,468.4 423.8,474 422.9,481.5 422.9,515 374.9,515 374.9,471.2 376.4,466 380,463 383.8,459.3 383,454.8 381.4,451"/>
</g>
<g clip-path="url(#c33)">
<polygon fill="#0233AE" points="420,400 550,400 550,515 420,515"/>
<polygon fill="#06745E" points="420,400 419,436 428,439 437,441.4 446,443.2 450,443.8 458.4,442.8 460,442.7 473.4,441.3 486.7,444.7 500,445.3 513.4,447.3 524,448.5 532.1,448.5 541,451 548.4,453.2 555,455 555,400"/>
<polygon fill="#07AD12" points="420,400 420,424.5 421,424.5 430.3,426.4 439.7,429.2 449,432 458.4,430.1 467.7,425.4 477.1,426.4 486.4,431 495.8,429.2 503.3,425.4 510.7,427.3 518.2,425.4 522.9,421.7 520.1,417 514.5,415.2 508.9,417 505.1,415.2 499.5,408.6 493.9,403 493,400"/>
<polygon fill="#0000FD" points="410,438.4 419,441.4 428,444.4 437,446.2 446,448 450,448.6 460,445.3 473.4,444.7 486.7,448 500,448.7 513.4,450 522.4,450.2 529.8,452.5 537.3,454.7 544.7,456.9 552.1,459.9 555,461 555,515 410,515"/>
<polygon fill="#5656FE" points="410,442.6 419,445 428,448 437,449.8 446,451 450,451.6 460,448.7 473.4,448 486.7,451.4 500,452.7 515,452.5 522.4,453.6 529.8,456.2 537.3,459.1 544.7,462.1 552.1,465.1 555,466 555,515 410,515"/>
<polygon fill="#ABABFD" points="410,446.2 416,447.4 422,449.8 428,451.6 434,453.4 440,454 450,454.6 460,451.4 473.4,452 486.7,454.7 500,455.4 515,457.6 522.4,459.1 529.8,460.6 534.3,461.4 537.3,464.3 541.7,466.5 549.1,468.8 555,470.3 555,473 547.7,472.5 538.4,472.5 525,472.5 513.4,472 500,471 488,470.7 484,473.4 481.4,477.4 480.7,485 479,508 479,515 410,515"/>
<polygon fill="#FEFEFC" points="410,449.8 416,451 422,452.2 428,453.4 431,454.8 440,456.2 458.4,456.3 466.7,455.6 473.4,456.7 486.7,458 500,458.7 515,459.9 524.1,460.4 526.9,461 527.4,463.4 526.9,466.5 524.1,466.5 513.4,466.7 500,467.4 489.4,468 486.7,468.7 480,468.2 470,467.5 440,467.2 431,467.8 428,469.5 425.1,476.5 423.9,482 422.9,515 410,515"/>
</g>
<g clip-path="url(#c34)">
<polygon fill="#06745E" points="530,400 662,400 662,515 530,515"/>
<polygon fill="#07AD12" points="608,400 608,403 607,412.3 606.1,421.7 608.9,429.2 614.5,434.8 616.4,440.4 616.4,449.7 612.6,456.3 608.9,461 608.9,466.6 612.6,470.3 620.1,471.8 627.2,471.6 630.8,472.8 633.2,481.2 634.4,484.8 638,486 641.6,489.6 642.8,495.6 643.4,502.8 647.6,502.8 648.8,498 648.8,477.6 651.2,472.2 653.6,472.8 655.4,477.6 656,481.2 662,481 662,400"/>
<polygon fill="#50C810" points="639.8,444.1 643.5,447.9 645.8,457.2 645.2,468 642.2,478.8 638,480.6 635,477.6 633.8,468 634.4,456 636,451.6 637.9,446"/>
<polygon fill="#A8E000" points="636.8,462 639.2,463.2 639.8,468 639.2,472.2 637.4,471.6 636.8,466.8"/>
<polygon fill="#0233AE" points="530,445.5 532.1,448 541,451 548.4,453.2 555.8,455.4 565.1,457 578.4,462.4 589.1,466.4 595.8,470.4 599.8,475.7 602.4,479.7 607.8,481.1 615,482.4 620.1,485.3 623.9,490.9 625.7,498.3 625.4,508 625,515 530,515"/>
<polygon fill="#0000FD" points="530,452 537.3,454.7 544.7,456.9 552.1,459.9 559.5,462.8 565,464 578.4,466.4 587.8,469 593.1,474.4 597.1,479.7 599.1,487.7 599.1,515 530,515"/>
<polygon fill="#5656FE" points="530,456 537.3,459.1 544.7,462.1 552.1,465.1 559.5,467.3 565,468.4 569.1,469.5 573.1,474.4 575.7,481.1 576.4,487.7 576.4,515 530,515"/>
<polygon fill="#ABABFD" points="530,460.8 534.3,461.4 537.3,464.3 541.7,466.5 549.1,468.8 556.5,470.5 562,471.5 565.1,474 567.1,479.7 567.7,487.7 567.7,515 554.4,515 554.4,487.7 553.7,479.7 551.7,474.4 547.7,472.5 538.4,472.5 530,472.5"/>
<polygon fill="#000000" points="657,478 656,481.2 653.6,489.6 651,495 650.4,498.9 649.5,501 648.9,502.8 645,503.1 644,503.4 638,505.2 634.4,507.6 634,508 657,508"/>
</g>
<g fill="none" stroke="#000" stroke-width="1.1" stroke-linejoin="round"><polyline points="80,455.4 81,450.7 82.2,447.1 83.3,446.2 85.7,446.2 86.9,447.1 88.1,450.7 88.6,454.8 115.1,454.8 116.6,456 117.7,458.2 118.1,461.3 131.4,461.4 132.4,457.8 132.8,456.6 133.5,459 134,461.3 256.5,461.3 257,463 257.6,466.6 258.5,468.9 262.4,469 298,469 399.7,469.1 400.3,467 400.9,463.4 402,462 404.4,461.3 431.7,461.3 466.7,462.2 470.9,462.2 475.6,461.3 483.9,461.7 485.7,462.8 486.9,465.8 487.5,468.8 489.9,469.1 593.2,469.4 594.5,470.7 595.1,477 594.5,484.6 593.2,485.6 568.6,485.6 533.3,492.1 529.5,492.1 528.9,490.9 526.4,485.8 520,485.8 518.3,487.2 514.8,491.3 511.2,488.4 507.7,485.4 501.7,486 492.2,486 487.5,484.8 479.2,484.2 472,484.8 440,485.4 419.3,485.6 384.2,485.6 290,485.4 150,485.4 117.3,485.6 116.6,483.4 115.8,479.7 115.1,477.6 107.7,477.8 105.4,478.6 102.5,477.8 101,478.9 98.8,482.6 97.3,484.5 95.4,484.1 94.3,479.7 92.8,477.8 89.1,477.8 87.6,480.4 85.8,479 85,484 84.2,491 83.3,485 82.5,479 81.5,478 80,478"/><polyline points="80,457.8 81.6,453.1 82.7,449.3 84.5,448.3 85.7,448.9 86.9,451.9 88.1,455.4 89.3,456.5 113.6,456.6 115,458.4 115.7,462.6 117.2,465.2 188,465.2 188.5,464.2 201,464.2 201.5,465.2 206,465.2 206.5,464.2 223,464.2 223.5,465.2 236.9,465.4 239.2,464.2 244,464.8 248.7,466.6 252.3,466.6 254.7,467.8 256.5,468.6 257.3,469.3 255.9,472 253.5,473.7 248.7,474.9 242.8,476.7 240.4,478.5 236.9,477.9 232.1,477.3 223,477.5 222.5,478.5 213,478.5 212.5,477.5 161,477.5 160.5,476.3 150,476.3 119.2,477.1 118.1,475.9 117.3,472.3 116.3,469.5 115.1,468.5 113.6,469.7 109.9,470.8 106.2,471.5 104,472.3 101.7,471.9 98,473 95.8,473.4 94.3,472.3 87.6,471.5 83.2,468.5 82.5,467.8 80,468.9"/><polyline points="298,475 308.7,474.4 318,474.8 346,475.7 354.1,476.6 359.4,477.3 352.8,478 346,479.3 298,479 277.6,477.3 262.6,477.3"/><polyline points="431.7,464.6 427,464 412.7,464 409.2,465.2 406.2,467 405.6,470.6 406.2,474.1 408,477.1 412.7,478.3 417.5,478.3 421,477.7 425.8,478.9 429.3,480.6 434.1,481.8 438.8,481.2 443.6,479.5 447.1,478.3 451.9,476.5 455.4,475.9 459,477.1 463.7,479.5 467.3,480.6 470.3,479.5 471.5,476.5 472,471.7 471.5,467 469.7,465.2 466.7,464.6"/><polyline points="476.2,465.8 478,465.2 483.3,470 480.4,474.1 477.4,477.7 475.6,476.5 475.4,471.7 475.6,467.6 476.2,465.8"/><polyline points="568.6,480.8 574.3,480.2 578.1,479.5 585.6,478.9 589.4,478.3 591.3,478.9 592.6,477.6 591.9,475.7 590.7,474.2 573,474.5 531.4,474.7 525.1,474.7 522.6,473.9 515,473.9 494.6,472.9 491,473.5 489.9,475.3 490.4,478.9 493.4,480 501.7,480.6 511.2,480.6 515,480.5 533.3,480.5"/></g><g fill="none" stroke="#000" stroke-width="1.3"><rect x="262.7" y="460.7" width="34.6" height="18.0"/><rect x="384.7" y="475.7" width="34.7" height="19.3"/><rect x="432.2" y="453.0" width="34.0" height="17.6"/><rect x="533.8" y="475.6" width="34.3" height="19.2"/></g><g font-size="17" fill="#000" stroke="#000" stroke-width="0.45"><text x="264.3" y="476.2">.001</text><text x="386.3" y="491.2">.001</text><text x="433.8" y="468.5">.001</text><text x="535.4" y="491.1">.001</text></g>
</svg>
<g fill="#000"><rect x="80" y="469.0" width="17" height="2"/><rect x="80" y="430.8" width="17" height="2"/><rect x="80" y="392.5" width="17" height="2"/><rect x="80" y="354.3" width="17" height="2"/><rect x="80" y="316.1" width="17" height="2"/><rect x="80" y="277.9" width="17" height="2"/><rect x="80" y="239.7" width="17" height="2"/><rect x="80" y="201.4" width="17" height="2"/><rect x="80" y="163.2" width="17" height="2"/><rect x="80" y="125.0" width="17" height="2"/><rect x="131.5" y="491" width="2" height="17"/><rect x="184.0" y="491" width="2" height="17"/><rect x="236.5" y="491" width="2" height="17"/><rect x="289.0" y="491" width="2" height="17"/><rect x="341.5" y="491" width="2" height="17"/><rect x="394.0" y="491" width="2" height="17"/><rect x="446.5" y="491" width="2" height="17"/><rect x="499.0" y="491" width="2" height="17"/><rect x="551.5" y="491" width="2" height="17"/><rect x="604.0" y="491" width="2" height="17"/></g>
<rect x="79" y="96" width="579" height="413" fill="none" stroke="#000" stroke-width="2"/>
<rect x="211.5" y="95.5" width="446.5" height="25" fill="#fff" stroke="#000" stroke-width="1"/>
<text x="215.5" y="112.4" font-size="17" stroke="#000" stroke-width="0.35">Cloud + Ice water mixing ratio Contours: .001 to .1 by .099</text>
<g font-size="17.2" stroke="#000" stroke-width="0.35"><text x="67.8" y="514.4" text-anchor="end">0.0</text><text x="67.8" y="476.2" text-anchor="end">1.0</text><text x="67.8" y="438.0" text-anchor="end">2.0</text><text x="67.8" y="399.7" text-anchor="end">3.0</text><text x="67.8" y="361.5" text-anchor="end">4.0</text><text x="67.8" y="323.3" text-anchor="end">5.0</text><text x="67.8" y="285.1" text-anchor="end">6.0</text><text x="67.8" y="246.9" text-anchor="end">7.0</text><text x="67.8" y="208.6" text-anchor="end">8.0</text><text x="67.8" y="170.4" text-anchor="end">9.0</text><text x="67.8" y="132.2" text-anchor="end">10.0</text></g>
<g font-size="17" stroke="#000" stroke-width="0.35"><text x="80.0" y="533" text-anchor="middle">-20.1</text><text x="132.5" y="533" text-anchor="middle">-16.9</text><text x="185.0" y="533" text-anchor="middle">-13.8</text><text x="237.5" y="533" text-anchor="middle">-10.6</text><text x="290.0" y="533" text-anchor="middle">-7.4</text><text x="342.5" y="533" text-anchor="middle">-4.2</text><text x="395.0" y="533" text-anchor="middle">-1.1</text><text x="447.5" y="533" text-anchor="middle">2.1</text><text x="500.0" y="533" text-anchor="middle">5.3</text><text x="552.5" y="533" text-anchor="middle">8.4</text><text x="605.0" y="533" text-anchor="middle">11.6</text><text x="657.5" y="533" text-anchor="middle">14.8</text></g>
<text x="368" y="563.5" font-size="22.7" text-anchor="middle" stroke="#000" stroke-width="0.4">longitude</text>
<text transform="translate(17,302) rotate(-90)" font-size="22.4" text-anchor="middle" stroke="#000" stroke-width="0.4">Height (km)</text>
<text x="368" y="610.7" font-size="17" text-anchor="middle" stroke="#000" stroke-width="0.35">CO anthropogenic&#160;&#160;(ppb)</text>
<rect x="170.50" y="617.5" width="30.5" height="20" fill="#FEFEFC" stroke="#000" stroke-width="1.1"/><rect x="201.00" y="617.5" width="30.5" height="20" fill="#ABABFD" stroke="#000" stroke-width="1.1"/><rect x="231.50" y="617.5" width="30.5" height="20" fill="#5656FE" stroke="#000" stroke-width="1.1"/><rect x="262.00" y="617.5" width="30.5" height="20" fill="#0000FD" stroke="#000" stroke-width="1.1"/><rect x="292.50" y="617.5" width="30.5" height="20" fill="#0233AE" stroke="#000" stroke-width="1.1"/><rect x="323.00" y="617.5" width="30.5" height="20" fill="#06745E" stroke="#000" stroke-width="1.1"/><rect x="353.50" y="617.5" width="30.5" height="20" fill="#07AD12" stroke="#000" stroke-width="1.1"/><rect x="384.00" y="617.5" width="30.5" height="20" fill="#50C810" stroke="#000" stroke-width="1.1"/><rect x="414.50" y="617.5" width="30.5" height="20" fill="#A8E000" stroke="#000" stroke-width="1.1"/><rect x="445.00" y="617.5" width="30.5" height="20" fill="#F8F800" stroke="#000" stroke-width="1.1"/><rect x="475.50" y="617.5" width="30.5" height="20" fill="#FFB000" stroke="#000" stroke-width="1.1"/><rect x="506.00" y="617.5" width="30.5" height="20" fill="#FF5A00" stroke="#000" stroke-width="1.1"/><rect x="536.50" y="617.5" width="30.5" height="20" fill="#FF0000" stroke="#000" stroke-width="1.1"/>
<g font-size="16.8" stroke="#000" stroke-width="0.35"><text x="231.5" y="666" text-anchor="middle">.2</text><text x="292.5" y="666" text-anchor="middle">1</text><text x="353.5" y="666" text-anchor="middle">5</text><text x="414.5" y="666" text-anchor="middle">20</text><text x="475.5" y="666" text-anchor="middle">100</text><text x="536.5" y="666" text-anchor="middle">500</text></g>
</svg>
</body></html>
